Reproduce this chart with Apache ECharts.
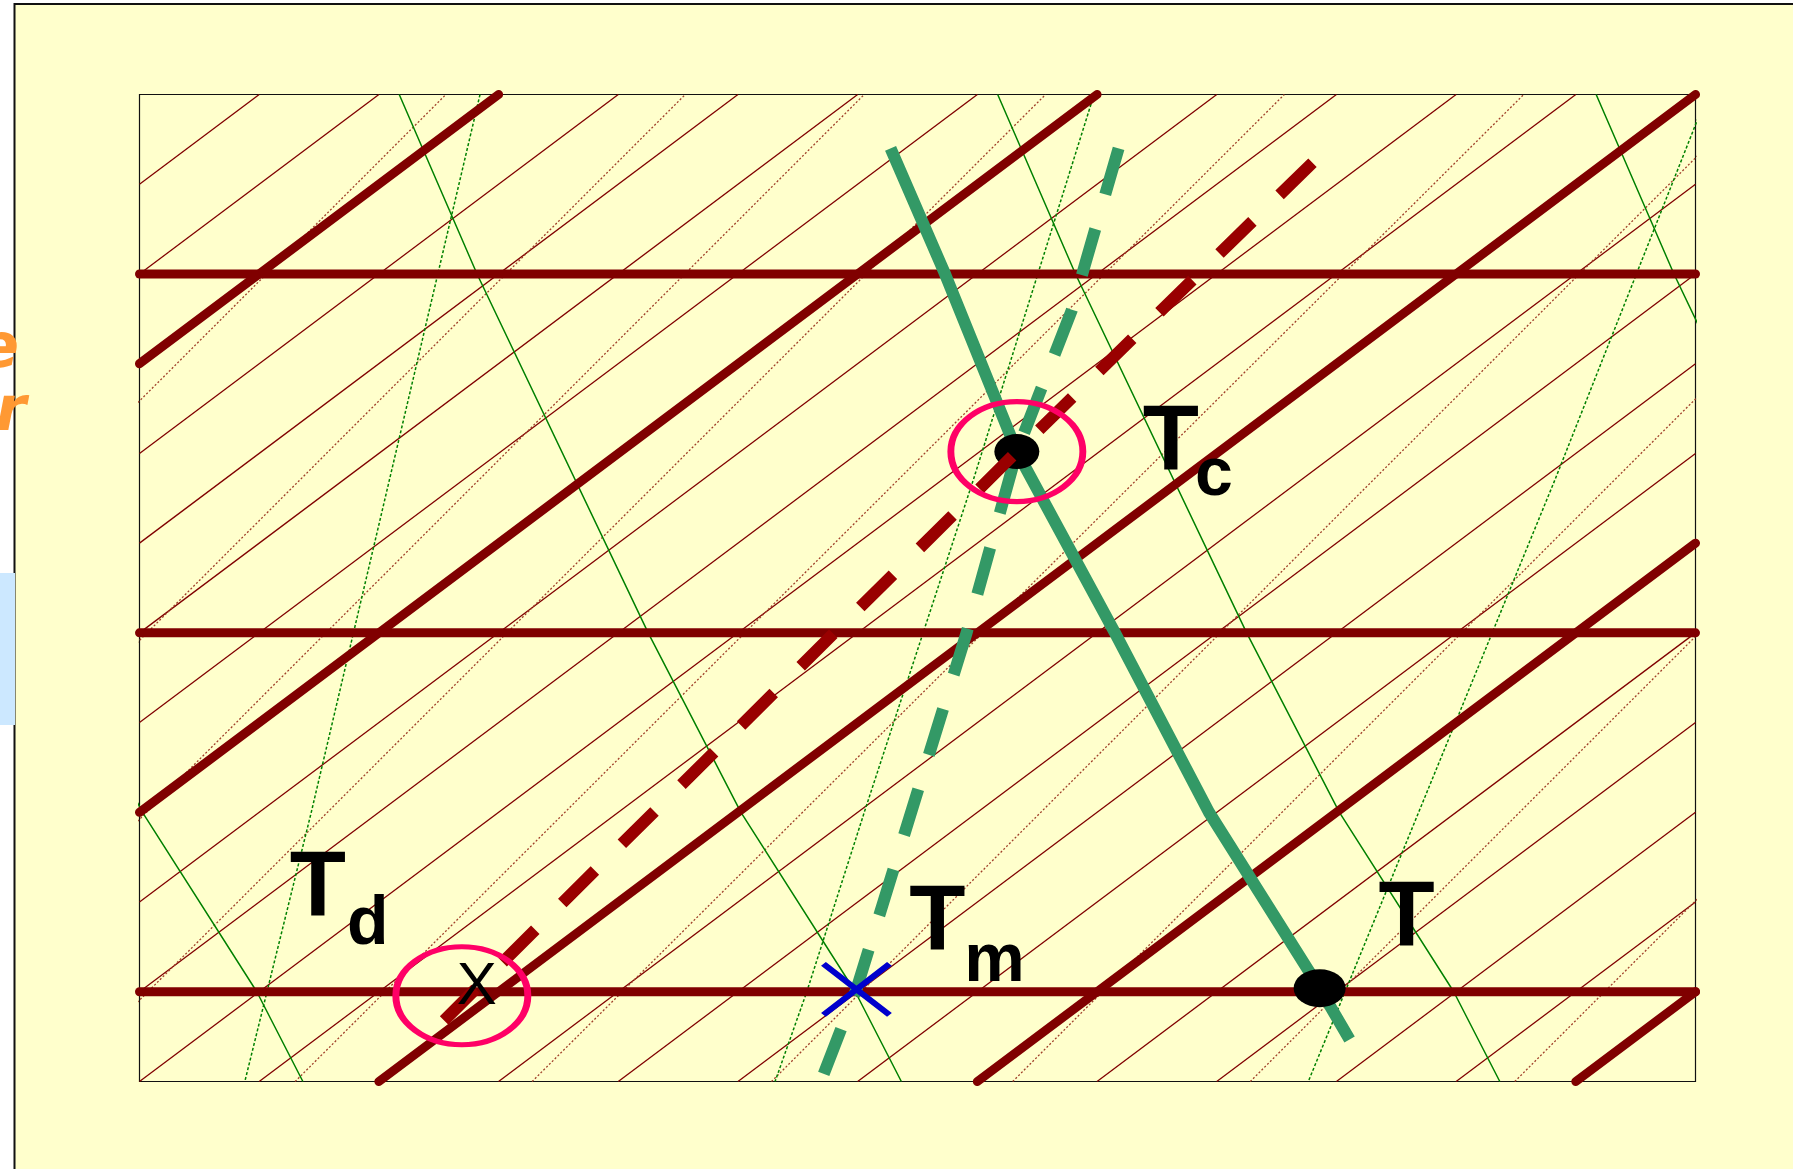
<!DOCTYPE html>
<html>
<head>
<meta charset="utf-8">
<title>Skew-T: lifting condensation level</title>
<script src="https://cdn.jsdelivr.net/npm/echarts@6/dist/echarts.min.js"></script>
<style>
  html, body { margin: 0; padding: 0; background: #ffffff; }
  #chart { width: 1793px; height: 1169px; }
</style>
</head>
<body>
<div id="chart"></div>
<script>
// Diagram coordinates: x = skewed temperature position (°C, read at the 1000 hPa level), y = pressure (hPa)
const SKEW = 0.08;                 // horizontal shift of an isotherm per hPa of ascent
const X_MIN = 4, X_MAX = 30;       // frame, skewed °C
const P_TOP = 750, P_BOTTOM = 1025; // frame, hPa

// Isotherms (°C): thin every 2 °C, heavy every 10 °C
const isothermsThin = [-14, -12, -8, -6, -4, -2, 2, 4, 6, 8, 12, 14, 16, 18, 22, 24, 26, 28];
const isothermsThick = [-10, 0, 10, 20, 30];
// Isobars drawn (hPa)
const isobars = [800, 900, 1000];

// Saturation mixing-ratio lines: [x at 1025 hPa, x at 750 hPa]
const mixingRatioLines = [
  [-7.37, 9.12], [-3.37, 13.12], [-0.38, 16.11], [2.64, 19.14], [6.60, 23.13],
  [10.56, 27.13], [14.56, 31.06], [18.59, 35.09], [22.56, 39.06], [26.98, 43.48]
];

// Dry adiabats: [x, p] points
const dryAdiabats = [
  [[-1.66, 750], [-0.36, 800], [2.50, 900], [4.05, 950], [5.96, 1000], [6.73, 1025]],
  [[8.34, 750], [9.64, 800], [12.50, 900], [14.05, 950], [15.96, 1000], [16.73, 1025]],
  [[18.34, 750], [19.64, 800], [22.50, 900], [24.05, 950], [25.96, 1000], [26.73, 1025]],
  [[28.34, 750], [29.64, 800], [32.50, 900], [34.05, 950], [35.96, 1000], [36.73, 1025]]
];

// Saturated (moist) adiabats: [x, p] points
const moistAdiabats = [
  [[9.69, 750], [8.28, 850], [6.87, 950], [5.76, 1025]],
  [[19.95, 750], [17.94, 857], [16.13, 949], [15.15, 1000], [14.62, 1025]],
  [[30.2, 750], [27.66, 857], [23.53, 1025]]
];

// Parcel construction (listed from the top down)
const parcelDryAdiabat = [[16.55, 765], [17.46, 800], [18.66, 849.5], [20.30, 900], [21.87, 950], [23.72, 999], [24.22, 1013.3]];
const parcelMoistAdiabat = [[20.36, 765], [19.58, 810], [18.66, 849.5], [17.82, 900], [15.98, 999.3], [15.43, 1023]];
const dewpointMixingRatio = [[23.6, 769], [18.66, 849.5], [9.57, 1000], [9.09, 1008]];

// Marked points [x, p]
const pointT = [23.72, 999];
const pointTc = [18.66, 849.5];
const pointTm = [15.98, 999.3];
const pointTd = [9.57, 1000];

const FONT = '"Liberation Sans", Arial, sans-serif';
const BROWN = '#800000';
const GREEN = '#008000';

function skewX(T, p) { return T + SKEW * (1000 - p); }

// Liang–Barsky clip of segment a→b to the diagram frame
function clipSegment(a, b) {
  let t0 = 0, t1 = 1;
  const dx = b[0] - a[0], dy = b[1] - a[1];
  const checks = [[-dx, a[0] - X_MIN], [dx, X_MAX - a[0]], [-dy, a[1] - P_TOP], [dy, P_BOTTOM - a[1]]];
  for (const [pp, q] of checks) {
    if (pp === 0) { if (q < 0) return null; continue; }
    const r = q / pp;
    if (pp < 0) { if (r > t1) return null; if (r > t0) t0 = r; }
    else { if (r < t0) return null; if (r < t1) t1 = r; }
  }
  return [[a[0] + t0 * dx, a[1] + t0 * dy], [a[0] + t1 * dx, a[1] + t1 * dy]];
}

function isothermSegment(T) {
  return clipSegment([skewX(T, P_BOTTOM), P_BOTTOM], [skewX(T, P_TOP), P_TOP]);
}

function line(data, lineStyle, z, clip) {
  return {
    type: 'line', data, symbol: 'none', silent: true, animation: false,
    clip: clip !== false, z, lineStyle
  };
}

function marker(pt, symbol, size, itemStyle, z, symbolOffset) {
  return {
    type: 'scatter', data: [pt], symbol, symbolSize: size, symbolOffset: symbolOffset || [0, 0],
    itemStyle: Object.assign({ opacity: 1 }, itemStyle), silent: true, animation: false, z
  };
}

function text(pt, str, offset, size, weight) {
  return {
    type: 'scatter', data: [pt], symbolSize: 1, itemStyle: { color: 'rgba(0,0,0,0)', opacity: 1 },
    silent: true, animation: false, z: 12,
    label: {
      show: true, position: 'inside', formatter: str, offset, opacity: 1,
      fontSize: size, fontWeight: weight, fontFamily: FONT, color: '#000000'
    }
  };
}

const series = [];

// background grid of the diagram
isothermsThin.forEach(T => {
  const seg = isothermSegment(T);
  if (seg) series.push(line(seg, { color: BROWN, width: 1.3 }, 2));
});
mixingRatioLines.forEach(([xb, xt]) => {
  series.push(line([[xb, P_BOTTOM], [xt, P_TOP]], { color: '#a0402a', width: 1.3, type: [2, 2] }, 2));
});
moistAdiabats.forEach(d => series.push(line(d, { color: GREEN, width: 1.5, type: [3, 2] }, 3)));
dryAdiabats.forEach(d => series.push(line(d, { color: GREEN, width: 1.5 }, 3)));

isothermsThick.forEach(T => {
  const seg = isothermSegment(T);
  if (seg) series.push(line(seg, { color: BROWN, width: 9, cap: 'round' }, 4, false));
});
isobars.forEach(p => {
  series.push(line([[X_MIN, p], [X_MAX, p]], { color: BROWN, width: 9, cap: 'round' }, 4, false));
});

// parcel lines
series.push(line(parcelDryAdiabat, { color: '#339966', width: 12, cap: 'butt', join: 'round' }, 6));
series.push(line(parcelMoistAdiabat, { color: '#339966', width: 12, type: [48, 36], cap: 'butt' }, 6));

// temperature and condensation points
series.push(marker(pointTc, 'circle', [45, 35], { color: '#000' }, 7));
series.push(marker(pointT, 'circle', [52, 38], { color: '#000' }, 7));

series.push(line(dewpointMixingRatio, { color: '#990000', width: 12, type: [46, 38], cap: 'butt' }, 8));

// rings and wet-bulb cross
const ring = { color: 'rgba(0,0,0,0)', borderColor: '#ff0066', borderWidth: 6 };
series.push(marker(pointTc, 'circle', [132, 100], ring, 9));
series.push(marker(pointTd, 'circle', [132, 98], ring, 9, [-11, 4]));
series.push(marker(pointTm, 'path://M0,0L66,51M0,51L66,0', [66, 51],
  { color: 'rgba(0,0,0,0)', borderColor: '#0000cc', borderWidth: 6 }, 10));

// labels
series.push(text(pointTc, 'T', [154, -7], 92, 'bold'));
series.push(text(pointTc, 'c', [197, 25], 68, 'bold'));
series.push(text(pointT, 'T', [87, -68], 92, 'bold'));
series.push(text(pointTm, 'T', [81, -65], 92, 'bold'));
series.push(text(pointTm, 'm', [138, -27], 68, 'bold'));
series.push(text(pointTd, 'T', [-155, -101], 92, 'bold'));
series.push(text(pointTd, 'd', [-105, -67], 68, 'bold'));
series.push(text(pointTd, 'X', [4, -4], 60, 'normal'));

const chart = echarts.init(document.getElementById('chart'), null, { renderer: 'canvas' });
chart.setOption({
  backgroundColor: '#ffffff',
  animation: false,
  grid: {
    left: 139.5, top: 94.5, width: 1556, height: 987,
    show: true, backgroundColor: 'rgba(0,0,0,0)', borderColor: '#111', borderWidth: 1.2,
    outerBoundsMode: 'none', containLabel: false
  },
  xAxis: {
    type: 'value', min: X_MIN, max: X_MAX,
    axisLine: { show: false }, axisTick: { show: false }, axisLabel: { show: false }, splitLine: { show: false }
  },
  yAxis: {
    type: 'value', min: P_TOP, max: P_BOTTOM, inverse: true,
    axisLine: { show: false }, axisTick: { show: false }, axisLabel: { show: false }, splitLine: { show: false }
  },
  graphic: [
    { type: 'rect', z: -10, silent: true,
      shape: { x: 14.5, y: 4, width: 1800, height: 1200 },
      style: { fill: '#ffffcc', stroke: '#111', lineWidth: 2 } },
    { type: 'rect', z: -9, silent: true,
      shape: { x: 0, y: 573, width: 15, height: 152 },
      style: { fill: '#cce8ff' } },
    { type: 'text', z: -9, silent: true,
      style: { text: 'e', x: 19, y: 351, align: 'right', verticalAlign: 'middle',
        font: 'italic bold 62px "DejaVu Sans"', fill: '#ff9933',
        shadowColor: 'rgba(70,35,0,0.85)', shadowOffsetX: 2, shadowOffsetY: 3, shadowBlur: 2 } },
    { type: 'text', z: -9, silent: true,
      style: { text: 'r', x: 26, y: 414, align: 'right', verticalAlign: 'middle',
        font: 'italic bold 62px "DejaVu Sans"', fill: '#ff9933',
        shadowColor: 'rgba(70,35,0,0.85)', shadowOffsetX: 2, shadowOffsetY: 3, shadowBlur: 2 } }
  ],
  series
});
</script>
</body>
</html>
